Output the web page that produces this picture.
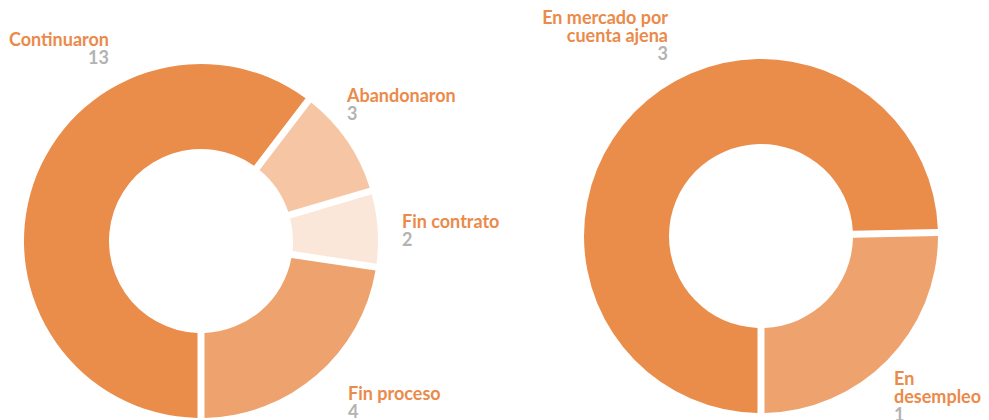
<!DOCTYPE html>
<html>
<head>
<meta charset="utf-8">
<script src="https://cdn.jsdelivr.net/npm/d3@7"></script>
<style>
  body { margin: 0; background: #fff; }
  .label { font-family: Lato, "Noto Sans", sans-serif; font-weight: 700; font-size: 18px; fill: #eb8a4a; }
  .count { font-family: Lato, "Noto Sans", sans-serif; font-weight: 700; font-size: 18px; fill: #b3b3b3; }
</style>
</head>
<body>
<div id="chart"></div>
<script>
// global size
var width = 989;
var height = 420;

// left donut: situation after the programme
var leftCategories = ["Continuaron", "Abandonaron", "Fin contrato", "Fin proceso"];
var leftCounts = [13, 3, 2, 4];          // numbers printed under each label
var leftSliceValues = [19, 3, 2, 7];     // slice sizes as drawn in the picture
var leftColors = ["#ea8c4a", "#f6c6a4", "#fbe7da", "#eea26d"];

// right donut: labour situation
var rightCategories = [["En mercado por", "cuenta ajena"], ["En", "desempleo"]];
var rightCounts = [3, 1];
var rightSliceValues = [3, 1];
var rightColors = ["#ea8c4a", "#eea26d"];

// layout (kept apart from the data)
var innerR = 92, outerR = 177, gap = 7;
var leftCenter = [201, 241];
var rightCenter = [761, 236];
var leftLabelPos = [
  { dx: -92, dy: -195, anchor: "end" },
  { dx: 146, dy: -139, anchor: "start" },
  { dx: 201, dy: -13, anchor: "start" },
  { dx: 147, dy: 159, anchor: "start" }
];
var rightLabelPos = [
  { dx: -93, dy: -212, anchor: "end" },
  { dx: 133, dy: 149, anchor: "start" }
];
var lineH = 18;

var svg = d3
  .select("#chart")
  .append("svg")
  .attr("width", width)
  .attr("height", height);

var pie = d3
  .pie()
  .sort(null)
  .startAngle(Math.PI)
  .endAngle(3 * Math.PI)
  .padAngle(gap / outerR);

var arc = d3
  .arc()
  .innerRadius(innerR)
  .outerRadius(outerR)
  .padRadius(outerR);

// draws one donut with its labels
function drawDonut(center, values, colors, names, counts, labelPos) {
  var g = svg.append("g").attr("transform", "translate(" + center[0] + "," + center[1] + ")");

  g.selectAll("path")
    .data(pie(values))
    .enter()
    .append("path")
    .attr("d", arc)
    .attr("fill", function(d, i) { return colors[i]; });

  names.forEach(function(name, i) {
    var lines = Array.isArray(name) ? name : [name];
    var p = labelPos[i];
    var t = g.append("text")
      .attr("x", p.dx)
      .attr("y", p.dy)
      .attr("text-anchor", p.anchor);
    lines.forEach(function(line, j) {
      t.append("tspan")
        .attr("class", "label")
        .attr("x", p.dx)
        .attr("y", p.dy + j * lineH)
        .text(line);
    });
    t.append("tspan")
      .attr("class", "count")
      .attr("x", p.dx)
      .attr("y", p.dy + lines.length * lineH)
      .text(counts[i]);
  });
}

drawDonut(leftCenter, leftSliceValues, leftColors, leftCategories, leftCounts, leftLabelPos);
drawDonut(rightCenter, rightSliceValues, rightColors, rightCategories, rightCounts, rightLabelPos);
</script>
</body>
</html>
